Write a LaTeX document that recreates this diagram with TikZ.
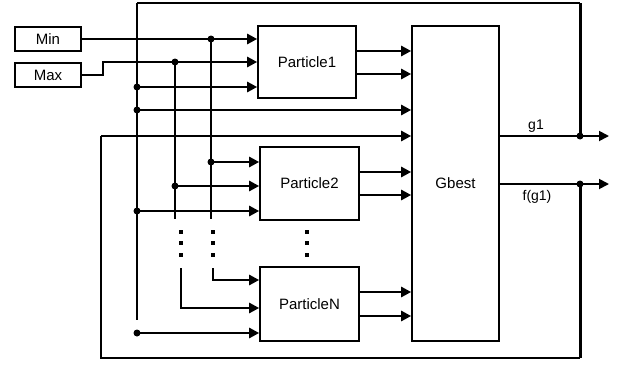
\documentclass[tikz,border=0pt]{standalone}
\usepackage{fontspec}
\setmainfont{Liberation Sans}
\usetikzlibrary{arrows.meta,positioning}

\tikzset{
  blk/.style={draw, line width=1.6pt, inner sep=0pt, font=\fontsize{15}{17}\selectfont},
  bus/.style={line width=2.7pt},
  wire/.style={line width=1.8pt},
  loop/.style={line width=3pt},
  sig/.style={bus, -{Triangle[length=10pt,width=10pt]}},
  lbl/.style={font=\fontsize{14}{16}\selectfont},
}

\begin{document}
\begin{tikzpicture}[x=1pt, y=-1pt]
\useasboundingbox (0,0) rectangle (618,367);

% Blocks
\node[blk, minimum width=66pt, minimum height=24pt] (min) at (48,39) {Min};
\node[blk, minimum width=66pt, minimum height=24pt] (max) at (48,75) {Max};
\node[blk, minimum width=98pt, minimum height=72pt] (p1) at (307,62) {Particle1};
\node[blk, minimum width=99pt, minimum height=73pt] (p2) at (309.5,183.5) {Particle2};
\node[blk, minimum width=99pt, minimum height=74pt] (pN) at (309.5,304) {ParticleN};
\node[blk, minimum width=87pt, minimum height=315pt] (gbest) at (455.5,183.5) {Gbest};

% Junctions
\coordinate (tmin1) at (211,39);
\coordinate (tmin2) at (211,162);
\coordinate (tmax1) at (175,62);
\coordinate (tmax2) at (175,186);
\coordinate (tg1) at (137,87);
\coordinate (tg2) at (137,110);
\coordinate (tg3) at (137,211);
\coordinate (tg4) at (137,333);
\coordinate (fb) at (101,136);
\coordinate (og) at (580,136);
\coordinate (of) at (580,184);
\coordinate (g1end) at (609,136);
\coordinate (fend) at (609,184);

% Min bus
\draw[sig] (min.east) -- (min.east -| p1.west);
\draw[bus] (tmin1) -- (211,219);
\draw[sig] (tmin2) -- (tmin2 -| p2.west);

% Max bus
\draw[sig] (max.east) -- (103,75) -- (103,62) -- (tmax1 -| p1.west);
\draw[bus] (tmax1) -- (175,219);
\draw[sig] (tmax2) -- (tmax2 -| p2.west);

% g1 feedback
\draw[wire, -{Triangle[length=10pt,width=10pt]}] (gbest.east |- og) -- (g1end);
\draw[loop] (og) -- (580,3);
\draw[wire] (580,3) -- (137,3);
\draw[bus] (137,3) -- (137,320);
\draw[sig] (tg1) -- (tg1 -| p1.west);
\draw[sig] (tg2) -- (tg2 -| gbest.west);
\draw[sig] (tg3) -- (tg3 -| p2.west);
\draw[sig] (tg4) -- (tg4 -| pN.west);

% f(g1) feedback
\draw[wire, -{Triangle[length=10pt,width=10pt]}] (gbest.east |- of) -- (fend);
\draw[loop] (of) -- (580,358);
\draw[wire] (580,358) -- (101,358) -- (fb);
\draw[sig] (fb) -- (fb -| gbest.west);

% Taps into ParticleN
\draw[sig] (181,268) -- (181,308) -- (pN.west |- 0,308);
\draw[sig] (213,268) -- (213,280) -- (pN.west |- 0,280);

% Particle outputs
\foreach \y in {51,74} \draw[sig] (p1.east |- 0,\y) -- (gbest.west |- 0,\y);
\foreach \y in {172,195} \draw[sig] (p2.east |- 0,\y) -- (gbest.west |- 0,\y);
\foreach \y in {292,316} \draw[sig] (pN.east |- 0,\y) -- (gbest.west |- 0,\y);

% Dots
\foreach \p in {tmin1,tmin2,tmax1,tmax2,tg1,tg2,tg3,tg4,og,of}
  \fill (\p) circle (3.5pt);
\foreach \x in {181,213,307}
  \foreach \y in {232,243,255}
    \fill ({\x-1.8},{\y-1.8}) rectangle ({\x+1.8},{\y+1.8});

% Labels
\node[lbl] (g1lbl) at (536,126) {g1};
\node[lbl] (flbl) at (537,197) {f(g1)};
\end{tikzpicture}
\end{document}
